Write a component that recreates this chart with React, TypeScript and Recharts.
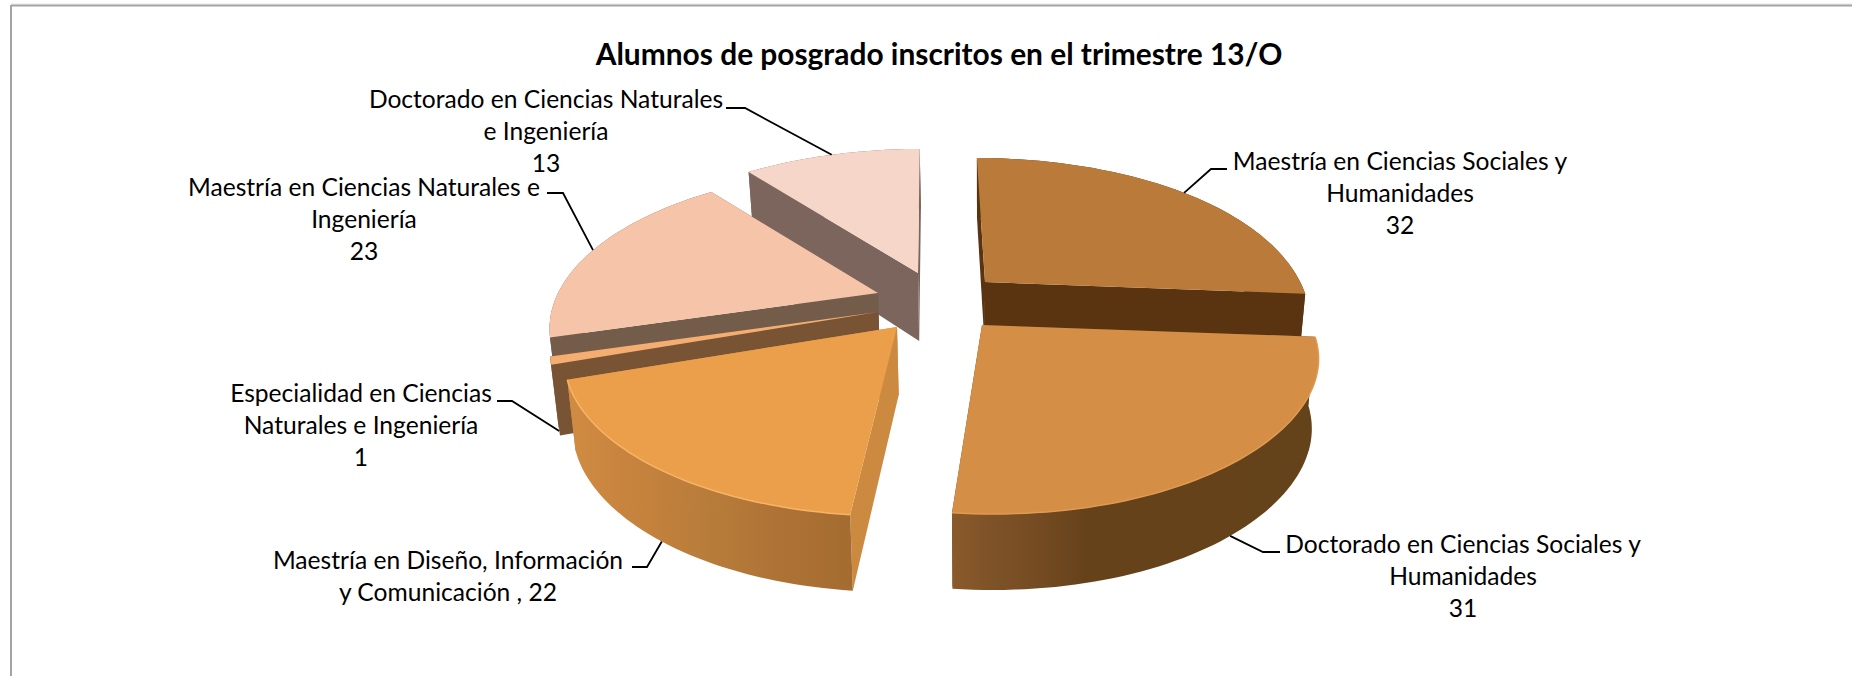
import React from "react";
import { PieChart, Pie } from "recharts";

// listed in paint order (back to front), the pie runs counter-clockwise from the first slice
const categoryLines = [
  ["Maestría en Ciencias Sociales y", "Humanidades"],
  ["Doctorado en Ciencias Naturales", "e Ingeniería"],
  ["Maestría en Ciencias Naturales e", "Ingeniería"],
  ["Especialidad en Ciencias", "Naturales e Ingeniería"],
  ["Maestría en Diseño, Información", "y Comunicación"],
  ["Doctorado en Ciencias Sociales y", "Humanidades"],
];
const values = [32, 13, 23, 1, 22, 31];

const topColors = ["#BA7B3A", "#F7D6CA", "#F6C5A9", "#F4AE72", "#EB9F4B", "#D48E45"];
const faceColors = ["#5A3411", "#7B655D", "#745C4A", "#785334", "#CC8A40", "#66421A"];
const rimHighlights = ["none", "none", "none", "none", "#F8B367", "#E09A52"];
const wallStops: [number, string][][] = [
  [[0, "#5A3411"]],
  [[0, "#7B655D"]],
  [[0, "#745C4A"]],
  [[0, "#785334"]],
  [[0, "#D08C42"], [0.2, "#C8843E"], [0.5, "#B87C3A"], [0.75, "#AE7236"], [1, "#A46C30"]],
  [[0, "#8A5A2A"], [0.1, "#7F5328"], [0.25, "#734A22"], [0.36, "#66421A"], [1, "#64421A"]],
];

// how far each slice is pulled out of the pie, on screen, and how wide it looks from there
const explode = [[55, -18], [-12, -27], [-52, -7], [-52, 12], [-33, 27], [52, 25]];
const widthScale = [0.985, 1, 1, 1, 1.015, 1.025];

// label layout: text centre, first baseline, leader start and elbow
const labelX = [1400, 546, 364, 361, 448, 1463];
const labelY = [170, 108, 196, 402, 569, 553];
const leaders = [
  [[1227, 169], [1211, 169]],
  [[726, 108], [745, 108]],
  [[547, 193], [563, 193]],
  [[497, 401], [512, 401]],
  [[632, 567], [647, 567]],
  [[1280, 552], [1263, 552]],
];

const WIDTH = 1852;
const HEIGHT = 676;
const CX = 930;
const CY = 300;
const RADIUS = 320;
const total = values.reduce((a, b) => a + b, 0);
const firstAngle = 90 - (values[0] / total) * 360;

const data = values.map((value, i) => ({ name: categoryLines[i].join(" "), value }));

const FONT = "Lato, Carlito, Calibri, sans-serif";
const TILT = 0.468;
const PERSP = 0.2076;
const WALL = 68;

// perspective view of a point on the pie's top face, a is clockwise from 12 o'clock
function project(index: number, a: number, r = 1) {
  const [ex, ey] = explode[index];
  const u = Math.sin((a * Math.PI) / 180) * r;
  const v = Math.cos((a * Math.PI) / 180) * r;
  const w = 1 + PERSP * v;
  const scale = 1 + (widthScale[index] - 1) * u ** 4;
  const lean = ex > 0 ? ex - 8 : (ex - 8) * 0.5;
  return {
    x: CX + ex + (RADIUS * scale * u + lean * (1 - w)) / w,
    y: CY + ey - (RADIUS * TILT * v) / w,
    v,
  };
}

function drop(p: { x: number; y: number; v: number }) {
  return { x: p.x + (980 - p.x) * 0.02, y: p.y + WALL - 8 * p.v, v: p.v };
}

const toPath = (pts: { x: number; y: number }[], close = true) =>
  pts.map((p, i) => `${i ? "L" : "M"}${p.x.toFixed(1)} ${p.y.toFixed(1)}`).join(" ") + (close ? " Z" : "");

function Slice3D(props: any) {
  const { index, startAngle, endAngle } = props;
  const from = 90 - endAngle;
  const to = 90 - startAngle;
  const steps = Math.max(2, Math.ceil((to - from) / 1.5));
  const rim = Array.from({ length: steps + 1 }, (_, k) => project(index, from + ((to - from) * k) / steps));
  const apex = project(index, 0, 0);
  const rimBottom = rim.map(drop);
  const apexBottom = drop(apex);
  const xs = rim.map((p) => p.x);
  const gradId = `wall-${index}`;
  const face = faceColors[index];
  return (
    <g>
      <defs>
        <linearGradient
          id={gradId}
          gradientUnits="userSpaceOnUse"
          x1={Math.min(...xs)}
          x2={Math.max(...xs)}
          y1={0}
          y2={0}
        >
          {wallStops[index].map(([o, c]) => (
            <stop key={o} offset={o} stopColor={c} />
          ))}
        </linearGradient>
      </defs>
      <path d={toPath([apex, rim[0], rimBottom[0], apexBottom])} fill={face} />
      <path d={toPath([apex, rim[steps], rimBottom[steps], apexBottom])} fill={face} />
      <path d={toPath([...rim, ...[...rimBottom].reverse()])} fill={`url(#${gradId})`} />
      <path d={toPath([apex, ...rim])} fill={topColors[index]} />
      {rimHighlights[index] !== "none" && (
        <path
          d={toPath(rim.filter((p) => p.v < 0.1), false)}
          fill="none"
          stroke={rimHighlights[index]}
          strokeWidth={1.5}
        />
      )}
    </g>
  );
}

function Leader(props: any) {
  const { index, midAngle } = props;
  const p = project(index, 90 - midAngle);
  const end = p.v < 0 ? drop(p) : p;
  const [start, elbow] = leaders[index];
  return (
    <path
      d={`M${start[0]} ${start[1]} L${elbow[0]} ${elbow[1]} L${end.x.toFixed(1)} ${end.y.toFixed(1)}`}
      fill="none"
      stroke="#000"
      strokeWidth={1.8}
    />
  );
}

function SliceLabel(props: any) {
  const { index } = props;
  const value = values[index];
  // this one keeps its value on the second line
  const inline = index === 4;
  const lines = inline
    ? [categoryLines[index][0], `${categoryLines[index][1]} , ${value}`]
    : [...categoryLines[index], String(value)];
  return (
    <text textAnchor="middle" fontFamily={FONT} fontSize={24.6} fill="#000">
      {lines.map((line, k) => (
        <tspan key={k} x={labelX[index]} y={labelY[index] + k * 32}>
          {line}
        </tspan>
      ))}
    </text>
  );
}

export default function App() {
  return (
    <div style={{ position: "absolute", left: 0, top: 0, width: WIDTH, height: HEIGHT, overflow: "hidden", background: "#fff" }}>
      <PieChart width={WIDTH} height={HEIGHT} margin={{ top: 0, right: 0, bottom: 0, left: 0 }}>
        <line x1={11} y1={4} x2={WIDTH} y2={4} stroke="#E6E6E6" strokeWidth={1} />
        <line x1={11} y1={5.5} x2={WIDTH} y2={5.5} stroke="#A3A3A3" strokeWidth={2} />
        <line x1={11} y1={5} x2={11} y2={HEIGHT} stroke="#A3A3A3" strokeWidth={2} />
        <text x={939} y={65} textAnchor="middle" fontFamily={FONT} fontSize={29.9} fontWeight={700} fill="#000">
          Alumnos de posgrado inscritos en el trimestre 13/O
        </text>
        <Pie
          data={data}
          dataKey="value"
          nameKey="name"
          cx={CX}
          cy={CY}
          innerRadius={0}
          outerRadius={RADIUS}
          startAngle={firstAngle}
          endAngle={firstAngle + 360}
          stroke="none"
          shape={Slice3D}
          label={SliceLabel}
          labelLine={Leader}
          isAnimationActive={false}
        />
      </PieChart>
    </div>
  );
}
